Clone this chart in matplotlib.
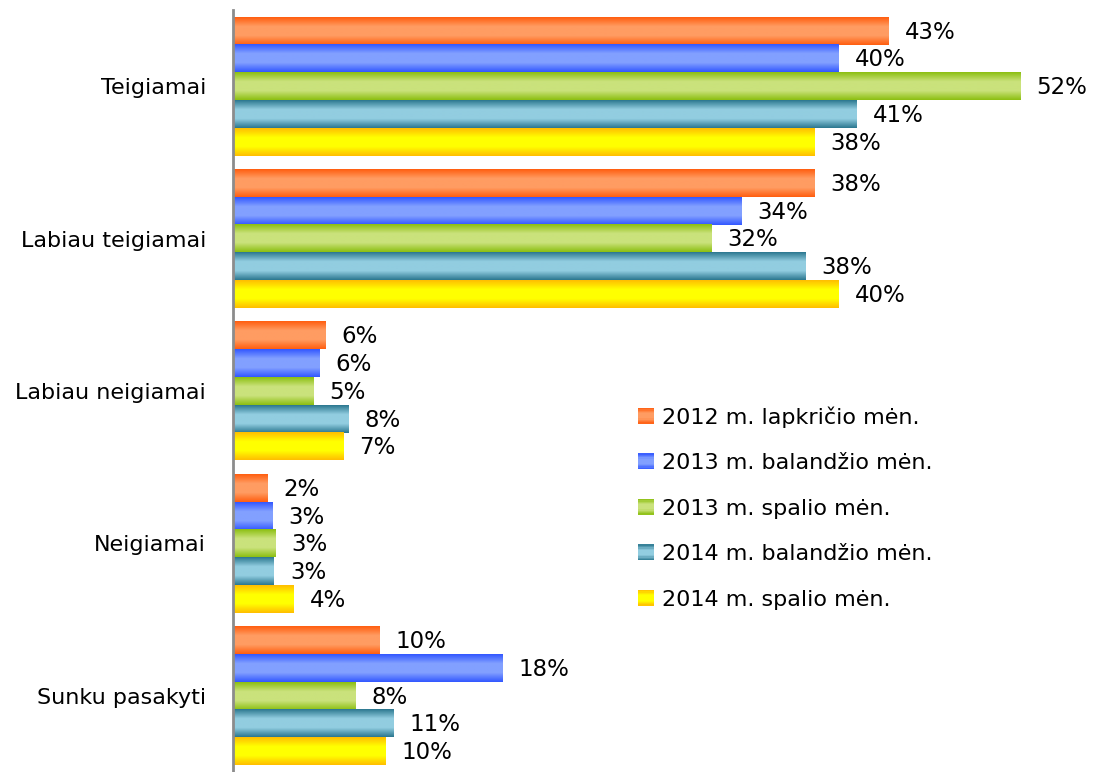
import numpy as np
import matplotlib
matplotlib.use("Agg")
import matplotlib.pyplot as plt
from matplotlib.colors import LinearSegmentedColormap
from matplotlib.patches import Rectangle
from matplotlib.legend_handler import HandlerBase

categories = ["Teigiamai", "Labiau teigiamai", "Labiau neigiamai", "Neigiamai", "Sunku pasakyti"]
series = ["2012 m. lapkričio mėn.", "2013 m. balandžio mėn.", "2013 m. spalio mėn.",
          "2014 m. balandžio mėn.", "2014 m. spalio mėn."]

v2012_11 = [43.3, 38.4, 6.1, 2.3, 9.7]
v2013_04 = [40.0, 33.6, 5.7, 2.6, 17.8]
v2013_10 = [52.0, 31.6, 5.3, 2.8, 8.1]
v2014_04 = [41.2, 37.8, 7.6, 2.7, 10.6]
v2014_10 = [38.4, 40.0, 7.3, 4.0, 10.1]
values = [v2012_11, v2013_04, v2013_10, v2014_04, v2014_10]

# (edge colour, centre colour) for the gradient look
grads = [("#ff5e10", "#ff9c62"),
         ("#3358ff", "#82a0ff"),
         ("#8cbf12", "#cae27c"),
         ("#2c7890", "#92cde0"),
         ("#ffbe00", "#ffff00")]

cmaps = [LinearSegmentedColormap.from_list("g%d" % i, [e, c, c, e]) for i, (e, c) in enumerate(grads)]
grad_img = np.linspace(0, 1, 64).reshape(-1, 1)


class GradHandler(HandlerBase):
    def __init__(self, cmap):
        super().__init__()
        self.cmap = cmap

    def create_artists(self, legend, orig_handle, xdescent, ydescent, width, height, fontsize, trans):
        n = 12
        side = height
        y0 = -ydescent + (height - side) / 2
        out = []
        for k in range(n):
            out.append(Rectangle((-xdescent + width - side, y0 + side * k / n), side, side / n + 0.3,
                                 facecolor=self.cmap((k + 0.5) / n), edgecolor="none",
                                 transform=trans))
        return out


fig = plt.figure(figsize=(10.93, 7.72), dpi=100)
ax = fig.add_axes([233 / 1093, 0, 1 - 233 / 1093, 1 - 10 / 772])

n = len(series)
bh = 0.182
y = np.arange(len(categories))
handles = []
for i in range(n):
    pos = y - bh * (n - 1) / 2 + i * bh
    bars = ax.barh(pos, values[i], height=bh, color=grads[i][0], label=series[i], zorder=2)
    handles.append(bars)
    for b, v in zip(bars, values[i]):
        x0, yb = b.get_x(), b.get_y()
        ax.imshow(grad_img, cmap=cmaps[i], aspect="auto", interpolation="bilinear",
                  extent=[x0, x0 + b.get_width(), yb + bh, yb], zorder=3)
        ax.annotate("%.0f%%" % v, (x0 + b.get_width(), yb + bh / 2), xytext=(11.5, -1),
                    textcoords="offset points", va="center", ha="left", fontsize=16.5)

ax.set_xlim(0, 56.8)
ax.set_ylim(len(categories) - 0.5, -0.5)
ax.set_yticks(y)
ax.set_yticklabels(categories, fontsize=16)
ax.tick_params(axis="y", length=0, pad=19.5)
ax.set_xticks([])
for s in ["top", "right", "bottom"]:
    ax.spines[s].set_visible(False)
ax.spines["left"].set_color("#8c8c8c")
ax.spines["left"].set_linewidth(2)
ax.spines["left"].set_zorder(4)

leg = ax.legend(handles, series, handler_map={h: GradHandler(cmaps[i]) for i, h in enumerate(handles)},
                loc="upper left", bbox_to_anchor=(638 / 1093, 1 - 406 / 772),
                bbox_transform=fig.transFigure, frameon=False, fontsize=16,
                handlelength=0.7, handletextpad=0.4, labelspacing=1.15,
                borderpad=0, borderaxespad=0)

fig.savefig("out.png", dpi=100)
